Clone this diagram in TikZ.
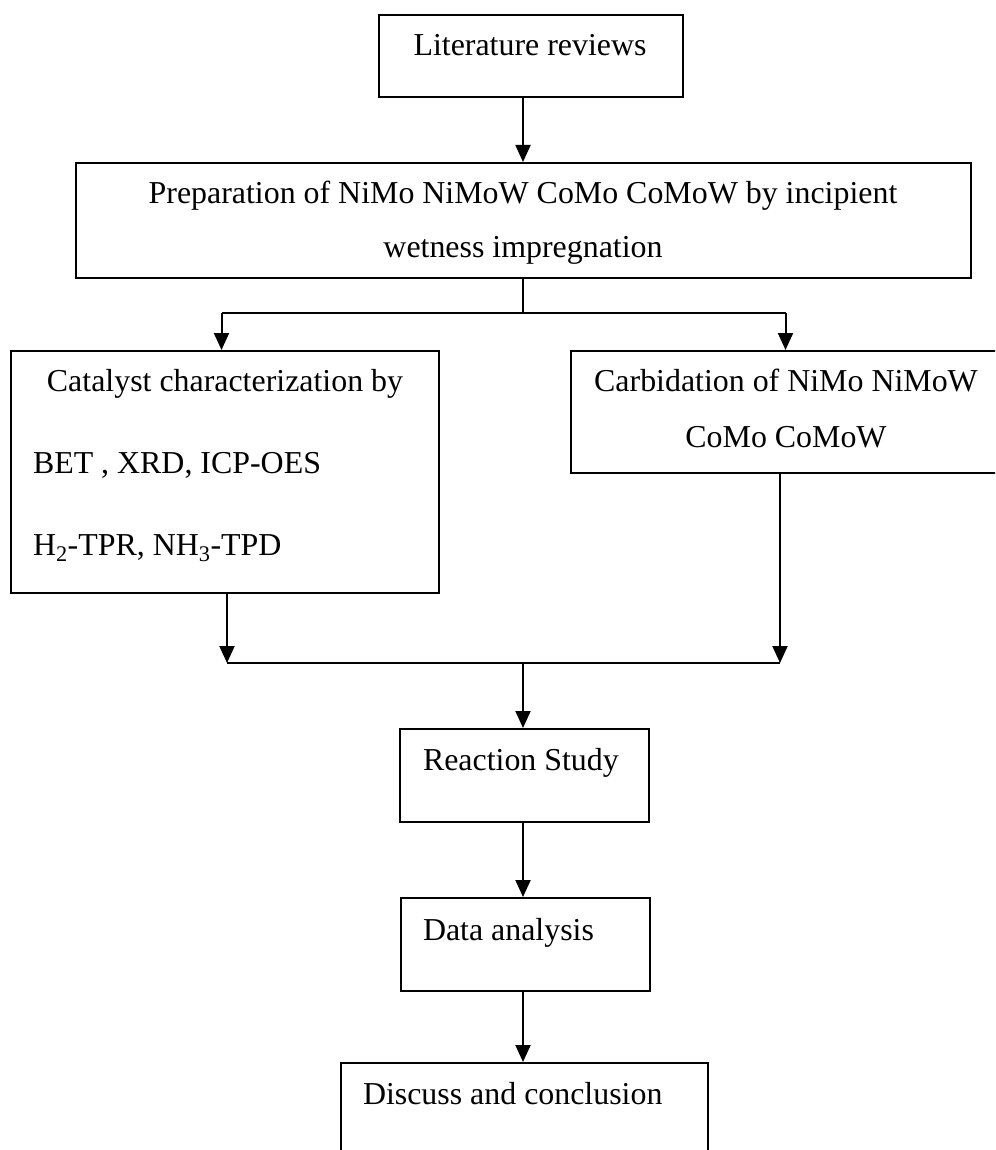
\documentclass[tikz,border=0pt]{standalone}
\usepackage{fontspec}
\setmainfont{Liberation Serif}
\usetikzlibrary{arrows.meta}
\begin{document}
\begin{tikzpicture}[x=1pt,y=-1pt,line width=2pt,
  box/.style={draw,rectangle,inner sep=0pt},
  txt/.style={inner sep=0pt,font=\fontsize{31.9}{38}\selectfont},
  arr/.style={-{Triangle[width=15pt,length=17pt]}}]
\useasboundingbox (0,0) rectangle (995,1150);
\clip (0,0) rectangle (995,1150);
% boxes
\node[box,minimum width=304,minimum height=82] (lit) at (531,56) {};
\node[box,minimum width=895.5,minimum height=115] (prep) at (523.25,220.5) {};
\node[box,minimum width=427.5,minimum height=242] (cat) at (224.75,472) {};
\node[box,minimum width=449.5,minimum height=122] (carb) at (795.25,412) {};
\node[box,minimum width=249,minimum height=93] (react) at (524.5,775.5) {};
\node[box,minimum width=249,minimum height=93] (data) at (525.5,944.5) {};
\node[box,minimum width=367,minimum height=117] (disc) at (524.5,1121.5) {};
% texts
\node[txt,anchor=base] (tlit) at (530,56) {Literature reviews};
\node[txt,anchor=base] (tprep1) at (523,204) {Preparation of NiMo NiMoW CoMo CoMoW by incipient};
\node[txt,anchor=base] (tprep2) at (523,258) {wetness impregnation};
\node[txt,anchor=base] (tcat1) at (225,391) {Catalyst characterization by};
\node[txt,anchor=base west] (tcat2) at (32,473) {BET , XRD, ICP-OES};
\node[txt,anchor=base west] (tcat3) at (32,555) {H\textsubscript{2}-TPR, NH\textsubscript{3}-TPD};
\node[txt,anchor=base] (tcarb1) at (786,391) {Carbidation of NiMo NiMoW};
\node[txt,anchor=base] (tcarb2) at (786,447) {CoMo CoMoW};
\node[txt,anchor=base west] (treact) at (422,770) {Reaction Study};
\node[txt,anchor=base west] (tdata) at (422,940) {Data analysis};
\node[txt,anchor=base west] (tdisc) at (362,1104) {Discuss and conclusion};
% coordinates
\coordinate (sp) at (523,0);
\coordinate (fork) at (523,313);
\coordinate (fl) at (221.5,313);
\coordinate (fr) at (785.5,313);
\coordinate (jl) at (227,663);
\coordinate (jr) at (780,663);
\coordinate (join) at (523,663);
% connectors
\draw[arr] (lit.south -| sp) -- (prep.north -| sp);
\draw (prep.south -| sp) -- (fork);
\draw (fl) -- (fr);
\draw[arr] (fl) -- (cat.north -| fl);
\draw[arr] (fr) -- (carb.north -| fr);
\draw[arr] (cat.south -| jl) -- (jl);
\draw[arr] (carb.south -| jr) -- (jr);
\draw (jl) -- (jr);
\draw[arr] (join) -- (react.north -| sp);
\draw[arr] (react.south -| sp) -- (data.north -| sp);
\draw[arr] (data.south -| sp) -- (disc.north -| sp);
\end{tikzpicture}
\end{document}
